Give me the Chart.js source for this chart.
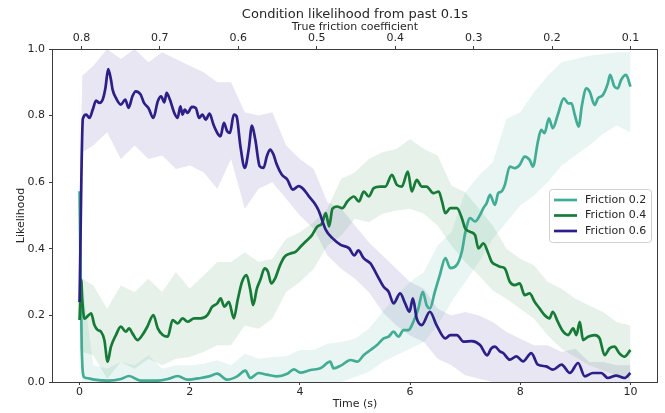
<!DOCTYPE html>
<html>
<head>
<meta charset="utf-8">
<script src="https://cdn.jsdelivr.net/npm/chart.js@4.4.1/dist/chart.umd.min.js"></script>
<style>
  html, body { margin: 0; padding: 0; background: #fff; }
  #wrap { width: 665px; height: 413px; }
</style>
</head>
<body>
<div id="wrap"><canvas id="likelihoodChart" width="665" height="413"></canvas></div>
<script>
// ---- data ----
const chartTitle = "Condition likelihood from past 0.1s";
const timeTicks = [0, 2, 4, 6, 8, 10];
const likelihoodTicks = [0, 0.2, 0.4, 0.6, 0.8, 1.0];
const frictionTicks = [0.8, 0.7, 0.6, 0.5, 0.4, 0.3, 0.2, 0.1];
const frictionAxisMax = 0.8375;
const frictionAxisMin = 0.065;

const seriesLabels = ["Friction 0.2", "Friction 0.4", "Friction 0.6"];
const seriesColors = ["#42ac95", "#177b38", "#2c1f87"];
const bandColors = ["rgba(66,172,149,0.12)", "rgba(23,123,56,0.11)", "rgba(44,31,135,0.11)"];

// mean likelihood, Friction 0.2
const f02Time = [0, 0.04, 0.08, 0.12, 0.27, 0.51, 0.75, 0.90, 1.11, 1.42, 1.60, 1.78, 1.96, 2.20, 2.35, 2.50, 2.68, 2.86, 3.01, 3.10,
  3.25, 3.40, 3.58, 3.77, 3.89, 4.01, 4.19, 4.37, 4.55, 4.61, 4.75, 4.92, 5.04, 5.16, 5.28, 5.40, 5.52, 5.61, 5.70, 5.79,
  5.88, 5.97, 6.06, 6.15, 6.23, 6.30, 6.36, 6.45, 6.54, 6.64, 6.73, 6.85, 6.94, 7.00, 7.09, 7.18, 7.27, 7.33, 7.39, 7.45,
  7.54, 7.60, 7.66, 7.72, 7.81, 7.90, 7.99, 8.08, 8.17, 8.23, 8.32, 8.38, 8.44, 8.52, 8.59, 8.68, 8.79, 8.87, 8.93, 8.99,
  9.06, 9.12, 9.20, 9.26, 9.35, 9.41, 9.50, 9.59, 9.63, 9.71, 9.77, 9.83, 9.92, 10.0];
const f02Mean = [0.573, 0.10, 0.015, 0.012, 0.007, 0.004, 0.009, 0.018, 0.004, 0.004, 0.009, 0.018, 0.007, 0.012, 0.017, 0.025, 0.007, 0.017, 0.034, 0.012,
  0.027, 0.022, 0.017, 0.025, 0.038, 0.028, 0.036, 0.041, 0.061, 0.041, 0.050, 0.066, 0.061, 0.081, 0.096, 0.111, 0.131, 0.136, 0.151, 0.136,
  0.156, 0.156, 0.181, 0.221, 0.271, 0.231, 0.221, 0.271, 0.321, 0.372, 0.342, 0.352, 0.392, 0.447, 0.492, 0.482, 0.502, 0.522, 0.537, 0.562,
  0.532, 0.567, 0.572, 0.592, 0.647, 0.642, 0.652, 0.677, 0.667, 0.647, 0.722, 0.757, 0.747, 0.792, 0.762, 0.802, 0.852, 0.837, 0.837, 0.802,
  0.767, 0.832, 0.882, 0.872, 0.832, 0.852, 0.862, 0.897, 0.922, 0.887, 0.882, 0.907, 0.922, 0.887];

// mean likelihood, Friction 0.4
const f04Time = [0, 0.03, 0.05, 0.09, 0.16, 0.21, 0.27, 0.33, 0.39, 0.45, 0.51, 0.57, 0.66, 0.75, 0.84, 0.90, 0.96, 1.05, 1.14, 1.23,
  1.34, 1.42, 1.51, 1.60, 1.69, 1.78, 1.87, 1.96, 2.08, 2.20, 2.32, 2.41, 2.50, 2.56, 2.63, 2.71, 2.80, 2.87, 2.95, 3.03,
  3.10, 3.15, 3.22, 3.28, 3.36, 3.42, 3.48, 3.55, 3.64, 3.72, 3.83, 3.92, 4.01, 4.10, 4.22, 4.31, 4.40, 4.47, 4.53, 4.59,
  4.68, 4.77, 4.86, 4.98, 5.07, 5.16, 5.25, 5.34, 5.46, 5.55, 5.67, 5.76, 5.85, 5.96, 6.03, 6.12, 6.21, 6.30, 6.42, 6.52,
  6.58, 6.64, 6.73, 6.85, 6.94, 7.00, 7.09, 7.18, 7.24, 7.33, 7.42, 7.48, 7.57, 7.63, 7.72, 7.81, 7.90, 7.99, 8.08, 8.17,
  8.26, 8.35, 8.44, 8.53, 8.59, 8.68, 8.78, 8.87, 8.96, 9.02, 9.08, 9.14, 9.23, 9.35, 9.44, 9.53, 9.62, 9.71, 9.80, 9.89, 10.0];
const f04Mean = [0.186, 0.307, 0.246, 0.190, 0.200, 0.206, 0.171, 0.156, 0.151, 0.126, 0.061, 0.106, 0.141, 0.166, 0.151, 0.161, 0.146, 0.126, 0.141, 0.166,
  0.201, 0.161, 0.141, 0.136, 0.186, 0.176, 0.191, 0.181, 0.191, 0.191, 0.201, 0.226, 0.236, 0.251, 0.226, 0.241, 0.191, 0.246, 0.301, 0.321,
  0.276, 0.231, 0.281, 0.306, 0.341, 0.331, 0.296, 0.311, 0.351, 0.376, 0.386, 0.391, 0.406, 0.421, 0.441, 0.466, 0.476, 0.507, 0.467, 0.520,
  0.527, 0.522, 0.542, 0.557, 0.542, 0.572, 0.557, 0.582, 0.587, 0.587, 0.622, 0.592, 0.587, 0.632, 0.572, 0.607, 0.587, 0.587, 0.567, 0.572,
  0.542, 0.507, 0.522, 0.522, 0.492, 0.461, 0.451, 0.441, 0.401, 0.416, 0.386, 0.361, 0.351, 0.346, 0.341, 0.301, 0.291, 0.296, 0.261, 0.266,
  0.241, 0.221, 0.201, 0.191, 0.211, 0.181, 0.151, 0.141, 0.161, 0.141, 0.181, 0.126, 0.136, 0.141, 0.131, 0.081, 0.101, 0.106, 0.086, 0.076, 0.096];

// mean likelihood, Friction 0.6
const f06Time = [0, 0.06, 0.12, 0.18, 0.24, 0.30, 0.36, 0.42, 0.47, 0.52, 0.57, 0.60, 0.66, 0.75, 0.83, 0.89, 0.96, 1.02, 1.11, 1.17,
  1.25, 1.34, 1.42, 1.48, 1.54, 1.58, 1.64, 1.72, 1.78, 1.83, 1.87, 1.91, 1.96, 2.04, 2.11, 2.17, 2.23, 2.29, 2.36, 2.43,
  2.50, 2.56, 2.62, 2.68, 2.73, 2.80, 2.85, 2.92, 3.00, 3.07, 3.13, 3.19, 3.27, 3.34, 3.40, 3.46, 3.52, 3.58, 3.67, 3.77,
  3.87, 3.98, 4.07, 4.16, 4.28, 4.34, 4.47, 4.59, 4.74, 4.89, 4.99, 5.06, 5.16, 5.28, 5.40, 5.52, 5.61, 5.70, 5.82, 5.91,
  5.99, 6.05, 6.12, 6.21, 6.36, 6.48, 6.64, 6.73, 6.85, 6.97, 7.12, 7.27, 7.40, 7.47, 7.54, 7.63, 7.69, 7.81, 7.93, 8.05,
  8.20, 8.32, 8.47, 8.59, 8.75, 8.90, 9.05, 9.17, 9.32, 9.47, 9.59, 9.74, 9.89, 10.0];
const f06Mean = [0.240, 0.790, 0.803, 0.793, 0.818, 0.845, 0.838, 0.848, 0.883, 0.940, 0.908, 0.878, 0.853, 0.833, 0.848, 0.823, 0.858, 0.873, 0.863, 0.838,
  0.823, 0.793, 0.843, 0.858, 0.840, 0.868, 0.848, 0.808, 0.793, 0.828, 0.803, 0.818, 0.808, 0.826, 0.823, 0.793, 0.803, 0.788, 0.806, 0.773,
  0.748, 0.738, 0.778, 0.753, 0.748, 0.803, 0.798, 0.708, 0.643, 0.698, 0.770, 0.728, 0.648, 0.643, 0.678, 0.698, 0.683, 0.653, 0.623, 0.608,
  0.578, 0.588, 0.578, 0.558, 0.533, 0.515, 0.457, 0.432, 0.412, 0.402, 0.380, 0.395, 0.371, 0.356, 0.321, 0.286, 0.271, 0.236, 0.266, 0.236,
  0.211, 0.251, 0.191, 0.171, 0.211, 0.171, 0.131, 0.141, 0.141, 0.121, 0.123, 0.111, 0.080, 0.100, 0.106, 0.092, 0.087, 0.067, 0.077, 0.062,
  0.087, 0.052, 0.047, 0.037, 0.052, 0.027, 0.057, 0.017, 0.027, 0.027, 0.012, 0.019, 0.012, 0.027];

// spread bands (upper / lower), shared time grid
const bandTime = [0, 0.05, 0.25, 0.5, 0.75, 1.0, 1.25, 1.5, 1.75, 2.0, 2.25, 2.5, 2.75, 3.0, 3.25, 3.5, 3.75, 4.0, 4.25, 4.5, 4.75,
  5.0, 5.25, 5.5, 5.75, 6.0, 6.25, 6.5, 6.75, 7.0, 7.25, 7.5, 7.75, 8.0, 8.25, 8.5, 8.75, 9.0, 9.25, 9.5, 9.75, 10.0];
const f02Upper = [0.92, 0.30, 0.05, 0.04, 0.06, 0.05, 0.08, 0.04, 0.05, 0.05, 0.055, 0.065, 0.05, 0.085, 0.07, 0.075, 0.077, 0.096, 0.096, 0.115, 0.12,
  0.13, 0.16, 0.21, 0.26, 0.30, 0.33, 0.41, 0.45, 0.57, 0.62, 0.66, 0.79, 0.81, 0.87, 0.92, 0.96, 0.97, 0.98, 0.985, 0.99, 0.99];
const f02Lower = [0.22, 0, 0, 0, 0, 0, 0, 0, 0, 0, 0, 0, 0, 0, 0, 0, 0, 0, 0, 0, 0,
  0.015, 0.03, 0.06, 0.08, 0.10, 0.12, 0.17, 0.24, 0.30, 0.36, 0.43, 0.48, 0.53, 0.56, 0.60, 0.65, 0.68, 0.71, 0.745, 0.77, 0.75];
const f04Upper = [0.31, 0.31, 0.29, 0.22, 0.29, 0.27, 0.31, 0.27, 0.33, 0.28, 0.32, 0.36, 0.36, 0.39, 0.36, 0.37, 0.43, 0.45, 0.48, 0.52, 0.61,
  0.63, 0.67, 0.69, 0.70, 0.73, 0.70, 0.68, 0.59, 0.57, 0.52, 0.47, 0.40, 0.37, 0.35, 0.30, 0.28, 0.25, 0.23, 0.21, 0.18, 0.17];
const f04Lower = [0.10, 0.09, 0.08, 0.01, 0.06, 0.04, 0.07, 0.05, 0.07, 0.075, 0.09, 0.11, 0.11, 0.17, 0.16, 0.19, 0.27, 0.30, 0.34, 0.41, 0.44,
  0.49, 0.48, 0.505, 0.515, 0.52, 0.505, 0.47, 0.41, 0.36, 0.32, 0.275, 0.25, 0.22, 0.19, 0.14, 0.10, 0.075, 0.05, 0.035, 0.02, 0.01];
const f06Upper = [0.50, 0.92, 0.95, 1.0, 0.97, 1.0, 0.96, 0.99, 0.97, 0.95, 0.93, 0.90, 0.90, 0.81, 0.80, 0.81, 0.71, 0.67, 0.64, 0.54, 0.52,
  0.47, 0.42, 0.38, 0.34, 0.30, 0.28, 0.22, 0.20, 0.21, 0.20, 0.18, 0.15, 0.13, 0.11, 0.11, 0.09, 0.10, 0.06, 0.06, 0.05, 0.05];
const f06Lower = [0.0, 0.69, 0.71, 0.75, 0.67, 0.71, 0.67, 0.68, 0.64, 0.65, 0.63, 0.58, 0.67, 0.52, 0.58, 0.60, 0.55, 0.50, 0.46, 0.38, 0.34,
  0.31, 0.27, 0.21, 0.17, 0.14, 0.12, 0.07, 0.05, 0.02, 0.01, 0, 0, 0, 0, 0, 0, 0, 0, 0, 0, 0];

const meanSeries = [[f02Time, f02Mean], [f04Time, f04Mean], [f06Time, f06Mean]];
const bandSeries = [[f02Upper, f02Lower], [f04Upper, f04Lower], [f06Upper, f06Lower]];

const toPoints = (xs, ys) => xs.map((x, i) => ({ x: x, y: ys[i] }));

const FONT = "'DejaVu Sans', Verdana, sans-serif";
const TEXT = "#262626";
const SPINE = "#3c3c3c";
Chart.defaults.font.family = FONT;
Chart.defaults.font.size = 11;
Chart.defaults.color = TEXT;

const datasets = [];
bandSeries.forEach((b, i) => {
  datasets.push({
    label: seriesLabels[i] + " upper",
    data: toPoints(bandTime, b[0]),
    borderWidth: 0,
    pointRadius: 0,
    backgroundColor: bandColors[i],
    fill: "+1",
    order: 10 + i,
  });
  datasets.push({
    label: seriesLabels[i] + " lower",
    data: toPoints(bandTime, b[1]),
    borderWidth: 0,
    pointRadius: 0,
    backgroundColor: bandColors[i],
    fill: false,
    order: 10 + i,
  });
});
meanSeries.forEach((s, i) => {
  datasets.push({
    label: seriesLabels[i],
    data: toPoints(s[0], s[1]),
    borderColor: seriesColors[i],
    borderWidth: 2.7,
    borderJoinStyle: "round",
    pointRadius: 0,
    cubicInterpolationMode: "monotone",
    fill: false,
    order: 3 - i,
    isSeries: true,
  });
});

const decorPlugin = {
  id: "decor",
  afterDraw(chart) {
    const { ctx, chartArea: a } = chart;
    ctx.save();
    // frame
    ctx.strokeStyle = SPINE;
    ctx.lineWidth = 1;
    ctx.strokeRect(Math.round(a.left) + 0.5, Math.round(a.top) + 0.5,
      Math.round(a.right - a.left) - 1, Math.round(a.bottom - a.top));
    // title
    ctx.fillStyle = TEXT;
    ctx.font = "13px " + FONT;
    ctx.textAlign = "center";
    ctx.textBaseline = "middle";
    ctx.fillText(chartTitle, (a.left + a.right) / 2, 15);
    // legend
    const series = chart.data.datasets.filter((d) => d.isSeries);
    const boxW = 102, boxH = 53, rowH = 15.5;
    const bx = a.right - 7 - boxW;
    const by = (a.top + a.bottom) / 2 - boxH / 2;
    ctx.beginPath();
    ctx.roundRect(bx + 0.5, by + 0.5, boxW, boxH, 3);
    ctx.fillStyle = "rgba(255,255,255,0.85)";
    ctx.fill();
    ctx.strokeStyle = "#d0d0d0";
    ctx.stroke();
    ctx.font = "11px " + FONT;
    ctx.textAlign = "left";
    series.forEach((d, i) => {
      const y = by + 11 + i * rowH;
      ctx.strokeStyle = d.borderColor;
      ctx.lineWidth = 2.7;
      ctx.beginPath();
      ctx.moveTo(bx + 5, y);
      ctx.lineTo(bx + 28, y);
      ctx.stroke();
      ctx.fillStyle = TEXT;
      ctx.fillText(d.label, bx + 36, y);
    });
    ctx.restore();
  },
};

new Chart(document.getElementById("likelihoodChart"), {
  type: "line",
  data: { datasets: datasets },
  plugins: [decorPlugin],
  options: {
    responsive: false,
    animation: false,
    layout: { padding: { top: 0, right: 7, bottom: 0, left: 0 } },
    plugins: {
      legend: { display: false },
      tooltip: { enabled: false },
      title: { display: false },
    },
    scales: {
      x: {
        type: "linear",
        position: "bottom",
        min: -0.5,
        max: 10.5,
        afterFit: (s) => { s.height = 31; },
        afterBuildTicks: (s) => { s.ticks = timeTicks.map((v) => ({ value: v })); },
        ticks: { padding: 1, maxRotation: 0, color: TEXT, callback: (v) => String(v) },
        grid: { drawOnChartArea: false, drawTicks: true, tickLength: 3, color: SPINE },
        border: { display: false },
        title: { display: true, text: "Time (s)", color: TEXT, padding: { top: 0, bottom: 2.4 } },
      },
      x2: {
        type: "linear",
        position: "top",
        reverse: true,
        min: frictionAxisMin,
        max: frictionAxisMax,
        afterFit: (s) => { s.height = 49; },
        afterBuildTicks: (s) => { s.ticks = frictionTicks.map((v) => ({ value: v })); },
        ticks: { padding: 1.5, maxRotation: 0, color: TEXT, callback: (v) => v.toFixed(1) },
        grid: { drawOnChartArea: false, drawTicks: true, tickLength: 3, color: SPINE },
        border: { display: false },
        title: { display: true, text: "True friction coefficient", color: TEXT, padding: { top: 20.4, bottom: 0 } },
      },
      y: {
        type: "linear",
        min: 0,
        max: 1,
        afterFit: (s) => { s.width = 52; },
        afterBuildTicks: (s) => { s.ticks = likelihoodTicks.map((v) => ({ value: v })); },
        ticks: { padding: 4, color: TEXT, callback: (v) => v.toFixed(1) },
        grid: { drawOnChartArea: false, drawTicks: true, tickLength: 3, color: SPINE },
        border: { display: false },
        title: { display: true, text: "Likelihood", color: TEXT, padding: { top: 14.4, bottom: 0 } },
      },
    },
  },
});
</script>
</body>
</html>
